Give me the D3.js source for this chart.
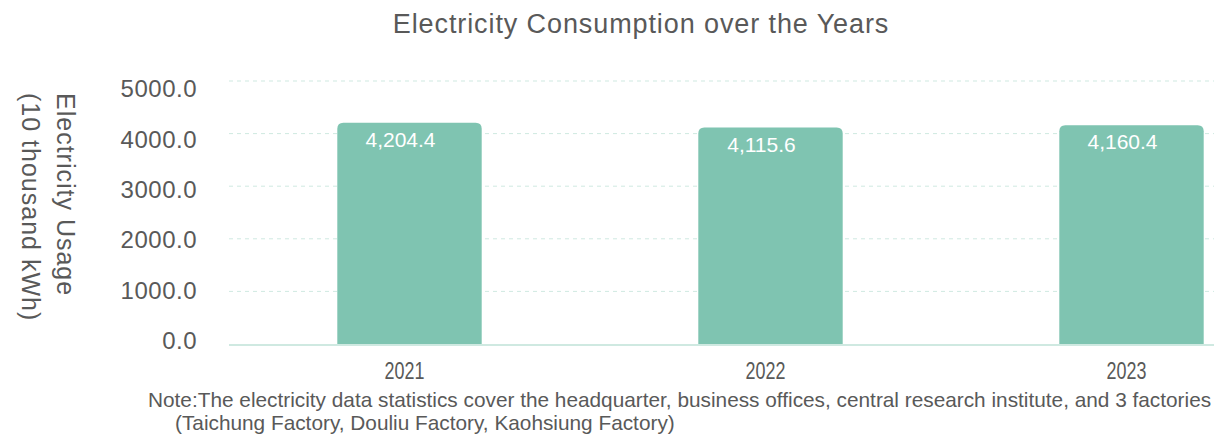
<!DOCTYPE html>
<html>
<head>
<meta charset="utf-8">
<script src="https://cdn.jsdelivr.net/npm/d3@7"></script>
<style>
  html, body { margin: 0; padding: 0; background: #fff; }
  svg { display: block; font-family: "Liberation Sans", Arial, sans-serif; }
</style>
</head>
<body>
<div id="chart"></div>
<script>
const years = ['2021', '2022', '2023'];
const usage = [4204.4, 4115.6, 4160.4];
const yTicks = [0, 1000, 2000, 3000, 4000, 5000];

const width = 1214;
const height = 437;
const textColor = '#595959';
const barColor = '#7fc4b1';
const gridColor = '#cfe9e1';

const svg = d3.select('#chart').append('svg')
  .attr('width', width)
  .attr('height', height);

// plot area: bands continue past the right edge, as in the reference
const x = d3.scaleBand()
  .domain(years)
  .range([229, 1312])
  .paddingInner(0.6)
  .paddingOuter(0.3);

const y = d3.scaleLinear()
  .domain([0, 5000])
  .range([344, 81]);

// tick labels sit on a slightly tighter spacing than the gridlines
const yLabel = d3.scaleLinear()
  .domain([0, 5000])
  .range([341, 89]);

// title
svg.append('text')
  .attr('x', 641)
  .attr('y', 33)
  .attr('text-anchor', 'middle')
  .attr('fill', textColor)
  .style('font-size', '27px')
  .style('letter-spacing', '0.9px')
  .text('Electricity Consumption over the Years');

// gridlines
svg.append('g')
  .selectAll('line')
  .data(yTicks.filter(d => d > 0))
  .enter().append('line')
  .attr('x1', 229)
  .attr('x2', width)
  .attr('y1', d => y(d))
  .attr('y2', d => y(d))
  .attr('stroke', gridColor)
  .attr('stroke-width', 1)
  .attr('stroke-dasharray', '4,4');

// y tick labels
svg.append('g')
  .attr('transform', 'translate(197,0)')
  .call(d3.axisLeft(yLabel).tickValues(yTicks).tickSize(0).tickPadding(0).tickFormat(d3.format('.1f')))
  .call(g => g.select('.domain').remove())
  .selectAll('text')
  .attr('fill', textColor)
  .style('font-size', '24px')
  .style('letter-spacing', '0.5px')
  .style('font-family', '"Liberation Sans", Arial, sans-serif');

// y axis title, rotated to read top to bottom
const yTitle = svg.append('text')
  .attr('transform', 'translate(0,93) rotate(90)')
  .attr('fill', textColor)
  .style('font-size', '25px')
  .style('letter-spacing', '1px');
yTitle.append('tspan').attr('x', 0).attr('y', -57).text('Electricity Usage');
yTitle.append('tspan').attr('x', 0).attr('y', -22).text('(10 thousand kWh)');

// bars with rounded top corners
const r = 6;
function barPath(d, i) {
  const x0 = x(years[i]);
  const x1 = x0 + x.bandwidth();
  const top = y(d);
  const bottom = y(0);
  return `M${x0},${bottom}V${top + r}Q${x0},${top} ${x0 + r},${top}` +
    `H${x1 - r}Q${x1},${top} ${x1},${top + r}V${bottom}Z`;
}

svg.append('g')
  .selectAll('path')
  .data(usage)
  .enter().append('path')
  .attr('d', barPath)
  .attr('fill', barColor);

// baseline
svg.append('line')
  .attr('x1', 229)
  .attr('x2', width)
  .attr('y1', y(0) + 1)
  .attr('y2', y(0) + 1)
  .attr('stroke', gridColor)
  .attr('stroke-width', 2);

// value labels inside the top of each bar
svg.append('g')
  .selectAll('text')
  .data(usage)
  .enter().append('text')
  .attr('x', (d, i) => x(years[i]) + x.bandwidth() / 2 - 9)
  .attr('y', d => y(d) + 24)
  .attr('text-anchor', 'middle')
  .attr('fill', '#ffffff')
  .style('font-size', '21px')
  .text(d => d3.format(',.1f')(d));

// x tick labels, narrow face
const xAxis = svg.append('g')
  .attr('transform', `translate(-5,${y(0)})`)
  .call(d3.axisBottom(x).tickSize(0).tickPadding(0))
  .call(g => g.select('.domain').remove());
xAxis.selectAll('text')
  .attr('dy', '35px')
  .attr('transform', 'scale(0.78,1)')
  .attr('fill', textColor)
  .style('font-size', '23px')
  .style('font-family', '"Liberation Sans", Arial, sans-serif');

// note
const note = svg.append('text')
  .attr('fill', textColor)
  .style('font-size', '20.8px');
note.append('tspan').attr('x', 148).attr('y', 407)
  .text('Note:The electricity data statistics cover the headquarter, business offices, central research institute, and 3 factories');
note.append('tspan').attr('x', 175).attr('y', 430)
  .text('(Taichung Factory, Douliu Factory, Kaohsiung Factory)');
</script>
</body>
</html>
